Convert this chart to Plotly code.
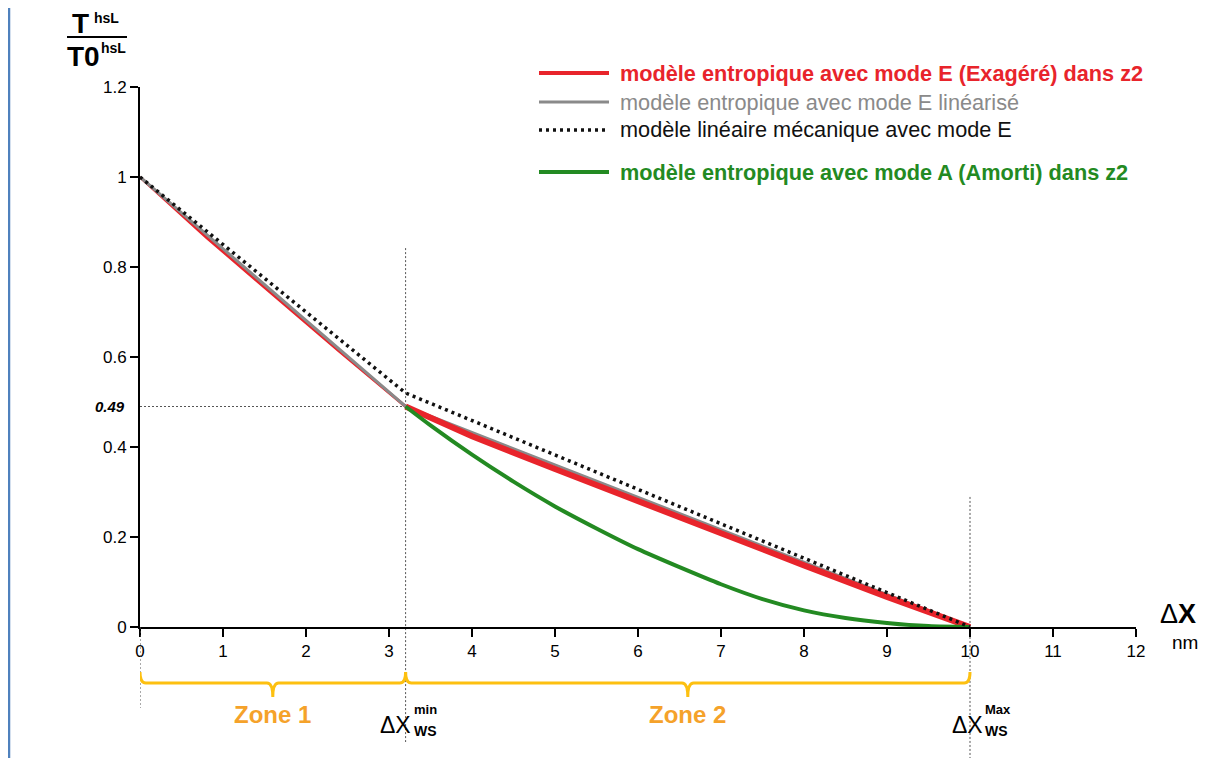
import plotly.graph_objects as go

# ---------------- data ----------------
x_red_z1 = [0.0, 0.8, 1.6, 2.4, 3.2]
y_red_z1 = [1.0, 0.866, 0.739, 0.613, 0.49]

x_red_z2 = [3.2, 4.0, 5.0, 6.0, 7.0, 8.0, 9.0, 10.0]
y_red_z2 = [0.49, 0.424, 0.351, 0.279, 0.208, 0.137, 0.067, 0.0]

x_gray = [0.0, 3.2, 10.0]
y_gray = [1.0, 0.49, 0.0]

x_black = [0.0, 3.2, 10.0]
y_black = [1.0, 0.52, 0.0]

x_green = [3.2, 3.5, 4.0, 4.5, 5.0, 5.5, 6.0, 6.5, 7.0, 7.5, 8.0, 8.5, 9.0, 9.5, 10.0]
y_green = [0.49, 0.448, 0.383, 0.323, 0.268, 0.219, 0.173, 0.133, 0.095, 0.062,
           0.037, 0.020, 0.009, 0.002, 0.0]

x_tickvals = list(range(0, 13))
x_ticktext = [str(v) for v in x_tickvals]
y_tickvals = [0, 0.2, 0.4, 0.6, 0.8, 1.0, 1.2]
y_ticktext = ["0", "0.2", "0.4", "0.6", "0.8", "1", "1.2"]

dx_min = 3.2
dx_max = 10.0
y_min_point = 0.49
zones = [(0.0, dx_min, "Zone 1"), (dx_min, dx_max, "Zone 2")]

legend_entries = [
    ("modèle entropique avec mode E (Exagéré) dans z2", "#E8242B", "solid", 4, True),
    ("modèle entropique avec mode E linéarisé", "#8A8A8A", "solid", 3, False),
    ("modèle linéaire mécanique avec mode E", "#111111", "3px,4px", 3.5, False),
    ("modèle entropique avec mode A (Amorti) dans z2", "#238A22", "solid", 4, True),
]

X_RANGE = [0, 12]
Y_RANGE = [0, 1.2]

# ---------------- layout geometry ----------------
OFF = 8  # page body margin
W, H = 1211, 750
ML, MR, MT, MB = 132, 83, 79, 131
PW, PH = W - ML - MR, H - MT - MB


def pxx(p):
    """page pixel x -> paper x"""
    return (p - OFF - ML) / PW


def pxy(p):
    """page pixel y -> paper y"""
    return (H - MB - (p - OFF)) / PH


def data_to_paper_y(v):
    return (v - Y_RANGE[0]) / (Y_RANGE[1] - Y_RANGE[0])


RED = "#E8242B"
GRAY = "#8A8A8A"
GREEN = "#238A22"
GOLD = "#FDC010"
ORANGE = "#F5A22A"
FONT = "Liberation Sans, Arial, sans-serif"

fig = go.Figure()
fig.add_trace(go.Scatter(x=x_red_z1, y=y_red_z1, mode="lines",
                         line=dict(color=RED, width=3), showlegend=False))
fig.add_trace(go.Scatter(x=x_gray, y=y_gray, mode="lines",
                         line=dict(color=GRAY, width=3), showlegend=False))
fig.add_trace(go.Scatter(x=x_red_z2, y=y_red_z2, mode="lines",
                         line=dict(color=RED, width=6), showlegend=False))
fig.add_trace(go.Scatter(x=x_green, y=y_green, mode="lines",
                         line=dict(color=GREEN, width=4, shape="spline", smoothing=0.8),
                         showlegend=False))
fig.add_trace(go.Scatter(x=x_black, y=y_black, mode="lines",
                         line=dict(color="#111111", width=3.5, dash="3px,4px"),
                         showlegend=False))

shapes = []
thin = dict(color="#555555", width=1, dash="2px,2px")
# horizontal guide at 0.49
shapes.append(dict(type="line", xref="x", yref="y", x0=0, x1=dx_min,
                   y0=y_min_point, y1=y_min_point, line=thin, layer="below"))
# vertical guides
shapes.append(dict(type="line", xref="x", yref="paper", x0=0, x1=0,
                   y0=0, y1=pxy(708), line=thin))
shapes.append(dict(type="line", xref="x", yref="paper", x0=dx_min, x1=dx_min,
                   y0=data_to_paper_y(0.842), y1=pxy(742), line=thin, layer="below"))
shapes.append(dict(type="line", xref="x", yref="paper", x0=dx_max, x1=dx_max,
                   y0=data_to_paper_y(0.289), y1=pxy(758), line=thin, layer="below"))

# braces
y_top, y_mid, y_tip = pxy(672), pxy(683), pxy(697)
for (a, b, label) in zones:
    m = (a + b) / 2
    d = 0.07
    path = (f"M {a},{y_top} Q {a},{y_mid} {a + d},{y_mid} "
            f"L {m - d},{y_mid} Q {m},{y_mid} {m},{y_tip} "
            f"Q {m},{y_mid} {m + d},{y_mid} L {b - d},{y_mid} "
            f"Q {b},{y_mid} {b},{y_top}")
    shapes.append(dict(type="path", xref="x", yref="paper", path=path,
                       line=dict(color=GOLD, width=3)))

# fraction bar for y title
shapes.append(dict(type="line", xref="paper", yref="paper", x0=pxx(67), x1=pxx(127),
                   y0=pxy(37), y1=pxy(37), line=dict(color="black", width=2)))

# page borders
shapes.append(dict(type="line", xref="paper", yref="paper", x0=pxx(9), x1=pxx(9),
                   y0=pxy(8), y1=pxy(758), line=dict(color="#4F81BD", width=2.5)))
shapes.append(dict(type="line", xref="paper", yref="paper", x0=pxx(1216), x1=pxx(1216),
                   y0=pxy(8), y1=pxy(758), line=dict(color="#DCE6F2", width=1)))

# legend (manual)
legend_y = [73, 102, 130, 172]
for (name, color, dash, lw, bold), py in zip(legend_entries, legend_y):
    shapes.append(dict(type="line", xref="paper", yref="paper",
                       x0=pxx(539), x1=pxx(609), y0=pxy(py), y1=pxy(py),
                       line=dict(color=color, width=lw, dash=dash)))

fig.update_layout(shapes=shapes)

ann = []
for (name, color, dash, lw, bold), py in zip(legend_entries, legend_y):
    txt = f"<b>{name}</b>" if bold else name
    ann.append(dict(xref="paper", yref="paper", x=pxx(618), y=pxy(py),
                    xanchor="left", yanchor="middle", text=txt, showarrow=False,
                    font=dict(size=21.7, color=color, family=FONT)))

# 0.49 label
ann.append(dict(xref="paper", yref="y", x=pxx(127), y=y_min_point, xanchor="right",
                yanchor="middle", text="<b><i>0.49</i></b>", showarrow=False,
                font=dict(size=15, color="black", family=FONT)))

# zone labels
for (a, b, label) in zones:
    ann.append(dict(xref="x", yref="paper", x=(a + b) / 2, y=pxy(714),
                    xanchor="center", yanchor="middle", text=f"<b>{label}</b>",
                    showarrow=False, font=dict(size=24, color=ORANGE, family=FONT)))

# ΔX_ws labels
for xv, sup, dxl in [(dx_min, "min", -10), (dx_max, "Max", -3)]:
    ann.append(dict(xref="x", yref="paper", x=xv, xshift=dxl, y=pxy(725),
                    xanchor="center", yanchor="middle", text="ΔX", showarrow=False,
                    font=dict(size=23, color="black", family=FONT)))
    ann.append(dict(xref="x", yref="paper", x=xv, xshift=dxl + 16, y=pxy(709),
                    xanchor="left", yanchor="middle", text=f"<b>{sup}</b>",
                    showarrow=False, font=dict(size=13, color="black", family=FONT)))
    ann.append(dict(xref="x", yref="paper", x=xv, xshift=dxl + 16, y=pxy(731),
                    xanchor="left", yanchor="middle", text="<b>WS</b>",
                    showarrow=False, font=dict(size=14, color="black", family=FONT)))

# x axis title
ann.append(dict(xref="paper", yref="paper", x=pxx(1158), y=pxy(614), xanchor="left",
                yanchor="middle", text="Δ<b>X</b>", showarrow=False,
                font=dict(size=27, color="black", family=FONT)))
ann.append(dict(xref="paper", yref="paper", x=pxx(1170), y=pxy(642), xanchor="left",
                yanchor="middle", text="nm", showarrow=False,
                font=dict(size=19, color="black", family=FONT)))

# y axis title (fraction)
ann.append(dict(xref="paper", yref="paper", x=pxx(80), y=pxy(24), xanchor="center",
                yanchor="middle", text="<b>T</b>", showarrow=False,
                font=dict(size=28, color="black", family=FONT)))
ann.append(dict(xref="paper", yref="paper", x=pxx(93), y=pxy(9), xanchor="left",
                yanchor="top", text="<b>hsL</b>", showarrow=False, borderpad=0,
                font=dict(size=14, color="black", family=FONT)))
ann.append(dict(xref="paper", yref="paper", x=pxx(83), y=pxy(57), xanchor="center",
                yanchor="middle", text="<b>T0</b>", showarrow=False,
                font=dict(size=28, color="black", family=FONT)))
ann.append(dict(xref="paper", yref="paper", x=pxx(99), y=pxy(48), xanchor="left",
                yanchor="middle", text="<b>hsL</b>", showarrow=False,
                font=dict(size=14, color="black", family=FONT)))

fig.update_layout(
    annotations=ann,
    width=W, height=H,
    margin=dict(l=ML, r=MR, t=MT, b=MB, pad=0),
    paper_bgcolor="white", plot_bgcolor="white",
    showlegend=False,
    font=dict(family=FONT, color="black"),
    xaxis=dict(range=X_RANGE, tickvals=x_tickvals, ticktext=x_ticktext,
               showgrid=False, zeroline=False, showline=True, linecolor="black",
               linewidth=2, ticks="outside", ticklen=8, tickwidth=2, tickcolor="black",
               tickfont=dict(size=17, family=FONT, color="black")),
    yaxis=dict(range=Y_RANGE, tickvals=y_tickvals, ticktext=y_ticktext,
               showgrid=False, zeroline=False, showline=True, linecolor="black",
               linewidth=2, ticks="outside", ticklen=8, tickwidth=2, tickcolor="black",
               tickfont=dict(size=17, family=FONT, color="black")),
)

fig.write_html("out.html")
